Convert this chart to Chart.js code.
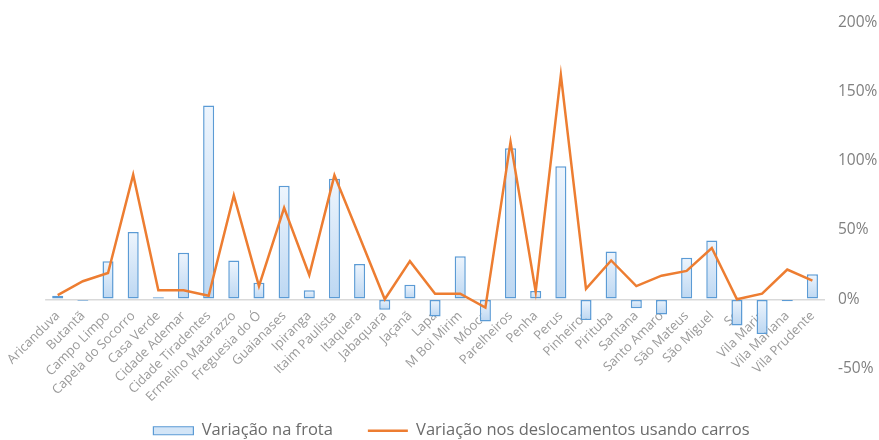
<!DOCTYPE html>
<html>
<head>
<meta charset="utf-8">
<script src="https://cdn.jsdelivr.net/npm/chart.js@4.4.1/dist/chart.umd.min.js"></script>
<style>
  html, body { margin: 0; padding: 0; background: #fff; }
  #wrap { width: 879px; height: 440px; }
</style>
</head>
<body>
<div id="wrap"><canvas id="myChart"></canvas></div>
<script>
// subprefeituras
const distritos = ['Aricanduva', 'Butantã', 'Campo Limpo', 'Capela do Socorro', 'Casa Verde',
  'Cidade Ademar', 'Cidade Tiradentes', 'Ermelino Matarazzo', 'Freguesia do Ó', 'Guaianases',
  'Ipiranga', 'Itaim Paulista', 'Itaquera', 'Jabaquara', 'Jaçanã', 'Lapa', 'M Boi Mirim',
  'Móoca', 'Parelheiros', 'Penha', 'Perus', 'Pinheiros', 'Pirituba', 'Santana', 'Santo Amaro',
  'São Mateus', 'São Miguel', 'Se', 'Vila Maria', 'Vila Mariana', 'Vila Prudente'];

// variação em %
const frota = [2.5, -1, 27.5, 48.5, 1.5, 33.5, 140, 28, 12, 82,
  6.5, 87, 25.5, -7.5, 10.5, -12.5, 31, -16, 109, 6,
  96, -15, 34.5, -6.5, -11, 30, 42.5, -19, -25, -1.5, 18];

const carros = [3, 13, 19, 90, 6.5, 6.5, 2.5, 75, 9.5, 66,
  17.5, 89.5, 45, 0, 27.5, 4, 4, -6, 113.5, 5.5,
  162, 7.5, 28, 9.5, 17, 20.5, 37, 0, 4, 21.5, 13.5];

const eixoY = { min: -50, max: 200, passo: 50 };

// gradiente de cada barra, do topo (claro) para a base (mais azul)
function fundoBarra(ctx) {
  const chart = ctx.chart;
  const y = chart.scales.y;
  if (!y || ctx.type !== 'data') return '#d6e7f8';
  const a = y.getPixelForValue(ctx.raw);
  const b = y.getPixelForValue(0);
  const topo = Math.min(a, b), base = Math.max(a, b);
  if (!isFinite(topo) || base - topo < 1) return '#d6e7f8';
  const g = chart.ctx.createLinearGradient(0, topo, 0, base);
  g.addColorStop(0, '#eef5fd');
  g.addColorStop(1, '#bcd7f2');
  return g;
}

// legenda do excel não fica exatamente no centro
const moveLegenda = {
  id: 'moveLegenda',
  afterLayout(chart) {
    const l = chart.legend;
    if (l) { l.left -= 10; l.right -= 10; }
  }
};

new Chart(document.getElementById('myChart'), {
  type: 'bar',
  data: {
    labels: distritos,
    datasets: [{
      type: 'bar',
      label: 'Variação na frota',
      data: frota,
      backgroundColor: fundoBarra,
      borderColor: '#5b9bd5',
      borderWidth: 1.5,
      borderSkipped: false,
      categoryPercentage: 0.8,
      barPercentage: 0.55,
      order: 2
    }, {
      type: 'line',
      label: 'Variação nos deslocamentos usando carros',
      data: carros,
      borderColor: '#ed7d31',
      backgroundColor: '#ed7d31',
      borderWidth: 2.5,
      pointRadius: 0,
      tension: 0,
      order: 1
    }]
  },
  plugins: [moveLegenda],
  options: {
    responsive: true,
    maintainAspectRatio: false,
    animation: false,
    layout: { padding: { left: 44, right: 0, top: 20, bottom: -9 } },
    scales: {
      x: {
        position: { y: 0 },
        grid: { display: false, drawTicks: false },
        border: { display: false },
        ticks: {
          autoSkip: false,
          minRotation: 45,
          maxRotation: 45,
          padding: 9,
          color: '#9a9a9a',
          font: { family: 'Open Sans', size: 13 }
        }
      },
      y: {
        position: 'right',
        min: eixoY.min,
        max: eixoY.max,
        grid: {
          drawTicks: false,
          color: ctx => (ctx.tick && ctx.tick.value === 0) ? '#d9d9d9' : 'rgba(0,0,0,0)',
          lineWidth: 1.5
        },
        border: { display: false },
        ticks: {
          stepSize: eixoY.passo,
          padding: 13,
          color: '#808080',
          font: { family: 'Open Sans', size: 15.5 },
          callback: v => v + '%'
        },
        afterFit: function (scale) { scale.width = 54; }
      }
    },
    plugins: {
      tooltip: { enabled: false },
      legend: {
        position: 'bottom',
        title: { display: true, text: ' ', font: { size: 10 }, padding: { top: 0, bottom: 7 } },
        labels: {
          usePointStyle: true,
          pointStyleWidth: 40,
          boxHeight: 8,
          padding: 35,
          color: '#6b6b6b',
          font: { family: 'Open Sans', size: 16.5 },
          sort: (a, b) => a.datasetIndex - b.datasetIndex,
          generateLabels: function (chart) {
            const itens = Chart.defaults.plugins.legend.labels.generateLabels(chart);
            itens.forEach(function (it) {
              if (it.datasetIndex === 0) {
                it.pointStyle = 'rect';
                it.fillStyle = '#d3e5f7';
                it.strokeStyle = '#5b9bd5';
                it.lineWidth = 1.2;
              } else {
                it.pointStyle = 'line';
                it.strokeStyle = '#ed7d31';
                it.lineWidth = 2.5;
              }
            });
            return itens;
          }
        }
      }
    }
  }
});
</script>
</body>
</html>
